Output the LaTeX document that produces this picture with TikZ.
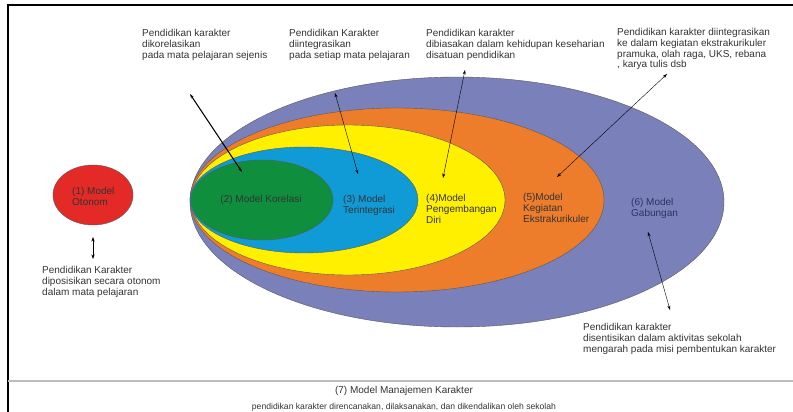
\documentclass[tikz,border=0pt]{standalone}
\usepackage{fontspec}
\setmainfont{Liberation Sans}
\usetikzlibrary{arrows.meta}

\definecolor{modelRed}{HTML}{E42A26}
\definecolor{modelGreen}{HTML}{0F8E3E}
\definecolor{modelBlue}{HTML}{109BD7}
\definecolor{modelYellow}{HTML}{FFF000}
\definecolor{modelOrange}{HTML}{EE7D2B}
\definecolor{modelPurple}{HTML}{7A80B9}
\definecolor{labelGray}{HTML}{333333}
\definecolor{navyText}{HTML}{2E3262}
\definecolor{lineGray}{HTML}{BDBDBD}

\def \labelFont {\fontsize{10}{10.8}\selectfont}
\def \rimWidth {0.4pt}

\begin{document}
\begin{tikzpicture}[x=1pt, y=-1pt, >={Stealth[length=4.5pt,width=3pt]},
      label/.style={anchor=north west, inner sep=0pt, align=left, text=labelGray, font=\labelFont},
      model/.style={draw=black!65, line width=\rimWidth}]
      \useasboundingbox (0,0) rectangle (793,412);
      \draw[line width=1.4pt] (793,5) -- (8,5) -- (8,412);
      \draw[lineGray, line width=1.2pt] (8,381) -- (793,381);

      \filldraw[model, fill=modelRed] (93,195) ellipse (40 and 30);
      \filldraw[model, fill=modelPurple] (457,202) ellipse (267 and 125);
      \filldraw[model, fill=modelOrange] (397,200) ellipse (207 and 92);
      \filldraw[model, fill=modelYellow] (348,200) ellipse (157 and 75);
      \filldraw[model, fill=modelBlue] (304,200) ellipse (114 and 53);
      \filldraw[model, fill=modelGreen] (262,200) ellipse (71 and 40);

      \node[label] (otonom) at (72,187) {(1) Model\\Otonom};
      \node[label, anchor=center] (korelasi) at (261,200) {(2) Model Korelasi};
      \node[label] (terintegrasi) at (343,195) {(3) Model\\Terintegrasi};
      \node[label] (pengembangan) at (426,194) {(4)Model\\Pengembangan\\Diri};
      \node[label] (ekstra) at (523,193) {(5)Model\\Kegiatan\\Ekstrakurikuler};
      \node[label, text=navyText] (gabungan) at (631,198) {(6) Model\\Gabungan};

      \node[label] (otonomNote) at (42,266) {Pendidikan Karakter\\diposisikan secara otonom\\dalam mata pelajaran};
      \node[label] (korelasiNote) at (142,29) {Pendidikan karakter\\dikorelasikan\\pada mata pelajaran sejenis};
      \node[label] (integrasiNote) at (289,29) {Pendidikan Karakter\\diintegrasikan\\pada setiap mata pelajaran};
      \node[label] (diriNote) at (426,29) {Pendidikan karakter\\dibiasakan dalam kehidupan keseharian\\disatuan pendidikan};
      \node[label] (ekstraNote) at (617,28) {Pendidikan karakter diintegrasikan\\ke dalam kegiatan ekstrakurikuler\\pramuka, olah raga, UKS, rebana\\, karya tulis dsb};
      \node[label] (gabunganNote) at (583,323) {Pendidikan karakter\\disentisikan dalam aktivitas sekolah\\mengarah pada misi pembentukan karakter};

      \node[label, anchor=center] (manajemen) at (404,391) {(7) Model Manajemen Karakter};
      \node[label, anchor=center, font=\fontsize{8.6}{10}\selectfont] (manajemenNote) at (404,407)
         {pendidikan karakter direncanakan, dilaksanakan, dan dikendalikan oleh sekolah};

      \coordinate (otonomTop) at (93,237);
      \coordinate (otonomBottom) at (93,259);
      \coordinate (korelasiTop) at (190,94);
      \coordinate (korelasiEnd) at (242,172);
      \coordinate (integrasiTop) at (335,93);
      \coordinate (integrasiEnd) at (358,174);
      \coordinate (diriTop) at (465,70);
      \coordinate (diriEnd) at (443,178);
      \coordinate (ekstraTop) at (667,74);
      \coordinate (ekstraEnd) at (557,177);
      \coordinate (gabunganTop) at (648,232);
      \coordinate (gabunganEnd) at (670,310);

      \draw[<->, line width=0.4pt] (otonomTop) -- (otonomBottom);
      \draw[<->, line width=1pt] (korelasiTop) -- (korelasiEnd);
      \draw[<->, line width=0.4pt] (integrasiTop) -- (integrasiEnd);
      \draw[<->, line width=0.4pt] (diriTop) -- (diriEnd);
      \draw[<->, line width=0.4pt] (ekstraTop) -- (ekstraEnd);
      \draw[<->, line width=0.4pt] (gabunganTop) -- (gabunganEnd);
   \end{tikzpicture}
\end{document}
